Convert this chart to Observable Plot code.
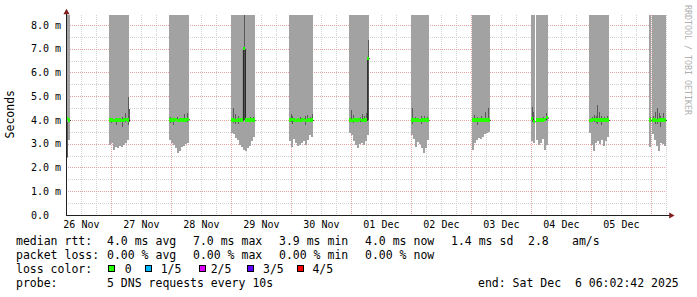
<!DOCTYPE html>
<html><head><meta charset="utf-8">
<script src="https://cdn.jsdelivr.net/npm/d3@7"></script>
<script src="https://cdn.jsdelivr.net/npm/@observablehq/plot@0.6"></script>
<style>
html,body{margin:0;padding:0;background:#fff;}
#chart{position:relative;width:697px;height:297px;overflow:hidden;}
</style></head><body><div id="chart"></div>
<script>
// ---- time range ----
const startTime = "2025-11-26T06:02:42Z";
const endTime   = "2025-12-06T06:02:42Z";
const binMinutes = 48;

// ---- smoke blocks (one value per 48-minute bin) ----
const blockStart = [
  "2025-11-26T06:02:42Z", "2025-11-26T23:26:00Z", "2025-11-27T23:19:00Z",
  "2025-11-29T00:00:00Z", "2025-11-29T23:19:00Z", "2025-11-30T23:19:00Z",
  "2025-12-02T00:00:00Z", "2025-12-03T00:24:00Z", "2025-12-04T00:00:00Z",
  "2025-12-04T02:07:00Z", "2025-12-04T23:19:00Z", "2025-12-05T23:19:00Z",
  "2025-12-06T00:31:00Z"
];
// lowest of the 5 pings (bottom of the smoke), in ms
const blockLow = [
  [2.4, 3.15],
  [2.95, 3.05, 2.75, 2.85, 2.8, 2.9, 2.85, 2.95, 3.05, 3.15],
  [3.15, 3.05, 2.95, 2.8, 2.6, 2.7, 2.85, 2.9, 3.0, 3.05],
  [3.45, 3.4, 3.25, 3.15, 2.95, 2.85, 2.75, 2.7, 2.8, 2.9, 3.1, 3.3],
  [3.1, 2.85, 3.2, 3.05, 2.9, 2.95, 3.05, 3.1, 2.95, 3.15, 3.35, 3.3],
  [3.45, 3.35, 3.1, 2.95, 2.8, 3.0, 3.05, 2.95, 3.1, 3.35],
  [3.37, 3.2, 2.88, 3.07, 3.0, 2.8, 2.6, 2.8, 3.15],
  [2.75, 3.05, 3.15, 3.25, 3.2, 3.3, 3.4, 3.45, 3.5],
  [3.1, 3.05],
  [3.15, 2.95, 3.05, 3.2, 2.75, 2.95],
  [3.45, 2.95, 2.7, 3.05, 3.1, 3.0, 3.15, 2.9, 3.1, 3.3],
  [2.85],
  [3.4, 3.15, 2.9, 2.7, 3.05, 3.0, 2.9]
];
// highest ping lies above the chart top (clipped)
const smokeHigh = 9.0;
// median rtt per bin
const blockMedian = [
  [4.05, 4.0],
  [4.0, 4.0, 3.97, 4.0, 4.0, 4.0, 3.97, 4.0, 4.03, 4.0],
  [4.0, 4.0, 4.0, 4.03, 3.97, 4.0, 4.0, 4.0, 4.0, 4.03],
  [4.0, 4.0, 3.97, 4.0, 4.0, 4.0, 7.0, 4.0, 4.0, 4.0, 4.0, 4.0],
  [4.0, 4.03, 4.0, 3.97, 4.0, 3.97, 4.0, 4.03, 3.97, 4.0, 4.0, 4.0],
  [4.0, 3.97, 4.0, 4.0, 4.0, 4.03, 3.97, 4.0, 4.0, 6.6],
  [4.0, 4.0, 4.0, 4.0, 3.97, 4.0, 4.0, 4.0, 4.0],
  [4.0, 4.0, 4.0, 4.0, 4.0, 4.0, 4.0, 4.0, 4.0],
  [4.05, 3.95],
  [4.0, 4.0, 4.0, 4.0, 4.03, 4.1],
  [3.97, 4.0, 4.03, 4.0, 4.0, 4.0, 4.0, 4.0, 4.0, 4.0],
  [4.0],
  [4.0, 4.0, 3.97, 4.0, 4.0, 4.0, 4.0]
];

// ---- darker smoke (inner pings) ----
const darkTime = [
  "2025-11-26T06:26Z",
  "2025-11-27T00:00Z","2025-11-27T02:07Z","2025-11-27T04:24Z","2025-11-27T05:43Z","2025-11-27T06:43Z","2025-11-27T07:26Z",
  "2025-11-27T23:43Z","2025-11-28T01:02Z","2025-11-28T02:38Z","2025-11-28T05:26Z","2025-11-28T06:24Z",
  "2025-11-29T00:48Z","2025-11-29T01:50Z","2025-11-29T02:48Z","2025-11-29T05:12Z","2025-11-29T07:43Z","2025-11-29T08:48Z",
  "2025-11-30T00:07Z","2025-11-30T00:38Z","2025-11-30T03:43Z","2025-11-30T04:24Z","2025-11-30T05:43Z","2025-11-30T06:38Z","2025-11-30T07:43Z","2025-11-30T08:24Z",
  "2025-12-01T00:07Z","2025-12-01T00:48Z","2025-12-01T03:43Z","2025-12-01T04:24Z","2025-12-01T05:19Z","2025-12-01T06:07Z","2025-12-01T06:55Z",
  "2025-12-02T00:38Z","2025-12-02T01:43Z","2025-12-02T04:00Z","2025-12-02T05:19Z","2025-12-02T06:24Z",
  "2025-12-03T01:19Z","2025-12-03T02:24Z","2025-12-03T04:00Z","2025-12-03T05:43Z","2025-12-03T07:02Z",
  "2025-12-04T00:24Z","2025-12-04T00:48Z","2025-12-04T05:02Z","2025-12-04T06:07Z",
  "2025-12-05T00:24Z","2025-12-05T01:19Z","2025-12-05T02:00Z","2025-12-05T02:38Z","2025-12-05T03:19Z","2025-12-05T04:00Z","2025-12-05T05:19Z","2025-12-05T06:24Z",
  "2025-12-05T23:43Z","2025-12-06T01:02Z","2025-12-06T01:43Z","2025-12-06T02:24Z","2025-12-06T03:19Z","2025-12-06T03:43Z","2025-12-06T05:02Z"
];
const darkLow = [
  2.45,
  3.86,3.8,3.72,3.93,3.8,3.9,
  3.86,3.8,3.95,3.93,3.9,
  3.86,3.82,3.82,4.0,3.93,3.95,
  3.93,3.82,3.9,3.9,3.8,3.9,3.9,3.95,
  3.9,3.88,3.9,3.95,3.93,4.0,4.0,
  3.82,3.93,3.82,3.93,3.93,
  3.93,3.8,3.95,3.95,3.98,
  3.9,3.88,3.95,4.0,
  3.93,3.93,3.88,3.82,3.9,3.8,3.93,3.93,
  3.93,3.9,3.85,3.82,3.93,3.72,3.9
];
const darkHigh = [
  3.9,
  4.07,4.1,4.14,4.28,4.95,4.45,
  4.14,4.07,4.14,4.25,4.31,
  4.5,4.26,4.18,9.0,4.14,4.12,
  4.24,4.17,4.12,4.1,4.17,4.2,4.12,4.24,
  4.42,4.2,4.12,4.24,4.15,4.28,7.35,
  4.5,4.12,4.17,4.17,4.12,
  4.2,4.14,4.17,4.35,4.52,
  4.56,4.35,4.12,4.28,
  4.12,4.2,4.17,4.63,4.35,4.17,4.12,4.17,
  4.12,4.17,4.35,4.5,4.28,4.17,4.28
];

// ---- axes ----
const yMax = 8.42;
const yTicks = [0, 1, 2, 3, 4, 5, 6, 7, 8];
const yLabels = ["0.0", "1.0 m", "2.0 m", "3.0 m", "4.0 m", "5.0 m", "6.0 m", "7.0 m", "8.0 m"];
const yMinor = [0.5, 1.5, 2.5, 3.5, 4.5, 5.5, 6.5, 7.5];
const dayTicks = [
  "2025-11-26T12:00:00Z","2025-11-27T12:00:00Z","2025-11-28T12:00:00Z","2025-11-29T12:00:00Z","2025-11-30T12:00:00Z",
  "2025-12-01T12:00:00Z","2025-12-02T12:00:00Z","2025-12-03T12:00:00Z","2025-12-04T12:00:00Z","2025-12-05T12:00:00Z"
];
const dayLabels = ["26 Nov","27 Nov","28 Nov","29 Nov","30 Nov","01 Dec","02 Dec","03 Dec","04 Dec","05 Dec"];
const yAxisTop = 8.62;          // axis line runs a little above the plot
const xAxisOverrunMin = 96;     // axis line runs a little past the end

// ---- legend ----
const rttTitle = "median rtt:";
const rttStats = ["4.0 ms avg", "7.0 ms max", "3.9 ms min", "4.0 ms now", "1.4 ms sd", "2.8", "am/s"];
const lossTitle = "packet loss:";
const lossStats = ["0.00 % avg", "0.00 % max", "0.00 % min", "0.00 % now"];
const colorTitle = "loss color:";
const lossLabels = ["0", "1/5", "2/5", "3/5", "4/5"];
const lossColors = ["#26ff00", "#00b8ff", "#dd00ff", "#5e00ff", "#ff0000"];
const probeTitle = "probe:";
const probeText = "5 DNS requests every 10s";
const endText = "end: Sat Dec  6 06:02:42 2025";
const unitLabel = "Seconds";
const watermark = "RRDTOOL / TOBI OETIKER";

// ---- build tables ----
const step = binMinutes * 60000;
const x0 = new Date(startTime), xEnd = new Date(endTime);
const smoke = [], band = [], medianPts = [];
blockStart.forEach((s, b) => {
  const t0 = Date.parse(s);
  const lows = blockLow[b], meds = blockMedian[b];
  lows.forEach((low, i) => {
    const a = new Date(t0 + i * step), c = new Date(t0 + (i + 1) * step);
    smoke.push({a, c, low, high: smokeHigh});
    band.push({a, c, m: meds[i]});
    medianPts.push({t: a, m: meds[i], block: b});
  });
  medianPts.push({t: new Date(t0 + lows.length * step), m: meds[meds.length - 1], block: b});
});
const dark = darkTime.map((t, i) => ({t: new Date(t), low: darkLow[i], high: darkHigh[i]}));
const sixHours = d3.utcHour.every(6).range(x0, xEnd);
const majorTimes = sixHours.filter(d => d.getUTCHours() === 0);
const minorTimes = sixHours.filter(d => d.getUTCHours() !== 0);
const labelByTime = new Map(dayTicks.map((d, i) => [Date.parse(d), dayLabels[i]]));
const xAxisEnd = new Date(+xEnd + xAxisOverrunMin * 60000);
const arrowRight = new Date(+xEnd + 108 * 60000);

const MONO = "'DejaVu Sans Mono', monospace";
const bandHalf = 0.065;

const plot = Plot.plot({
  width: 697, height: 297,
  marginLeft: 66, marginRight: 31, marginTop: 15, marginBottom: 82,
  style: {fontFamily: MONO, fontSize: "10px", color: "#000", background: "#fff", overflow: "visible"},
  x: {type: "utc", domain: [x0, xEnd]},
  y: {domain: [0, yMax]},
  marks: [
    Plot.ruleY(yMinor, {stroke: "#d2d2d2", strokeDasharray: "1,1", shapeRendering: "crispEdges"}),
    Plot.ruleX(minorTimes, {stroke: "#d2d2d2", strokeDasharray: "1,1", shapeRendering: "crispEdges"}),
    Plot.ruleY(yTicks.filter(v => v > 0), {stroke: "#e8a4a4", strokeDasharray: "1,1", shapeRendering: "crispEdges"}),
    Plot.ruleX(majorTimes, {stroke: "#e8a4a4", strokeDasharray: "1,1", shapeRendering: "crispEdges"}),
    Plot.rectY(smoke, {x1: "a", x2: "c", y1: "low", y2: "high", fill: "#a2a2a2", clip: true, shapeRendering: "crispEdges"}),
    Plot.ruleX(dark, {x: "t", y1: "low", y2: "high", stroke: "#5a5a5a", strokeWidth: 1, clip: true, shapeRendering: "crispEdges"}),
    Plot.line(medianPts, {x: "t", y: "m", z: "block", curve: "step-after", stroke: "#1a1a1a", strokeWidth: 1}),
    Plot.rectY(band, {x1: "a", x2: "c", y1: d => d.m - bandHalf, y2: d => d.m + bandHalf, fill: lossColors[0], shapeRendering: "crispEdges"}),
    Plot.ruleY([{y: 0, a: x0, c: xAxisEnd}], {y: "y", x1: "a", x2: "c", stroke: "#202020", shapeRendering: "crispEdges"}),
    Plot.ruleX([{x: x0, b: yAxisTop}], {x: "x", y1: 0, y2: "b", stroke: "#202020", shapeRendering: "crispEdges"}),
    Plot.dot([{x: x0, y: 8.55}], {x: "x", y: "y", symbol: "triangle", r: 2.3, fill: "#7f1f1f"}),
    Plot.dot([{x: arrowRight, y: 0}], {x: "x", y: "y", symbol: "triangle", r: 2.3, rotate: 90, fill: "#7f1f1f"}),
    Plot.axisX({ticks: dayTicks.map(d => new Date(d)), tickFormat: d => labelByTime.get(+d), tickSize: 0, tickPadding: 5, label: null}),
    Plot.axisY({ticks: yTicks, tickFormat: d => yLabels[yTicks.indexOf(d)], tickSize: 0, tickPadding: 35.5, textAnchor: "start", label: null})
  ]
});
document.getElementById("chart").append(plot);

// ---- legend / labels drawn as text in the same svg ----
const svg = d3.select(plot);
const g = svg.append("g").attr("font-family", MONO).attr("font-size", 11.5).attr("fill", "#000")
  .attr("text-anchor", "start").style("white-space", "pre");
function put(x, y, s) { g.append("text").attr("x", x).attr("y", y).attr("text-anchor", "start").text(s); }
const rowY = [244.5, 258.5, 272.5, 286.5];
const statX = [107, 193, 279, 365, 451, 528, 572];
put(16, rowY[0], rttTitle);
rttStats.forEach((s, i) => put(statX[i], rowY[0], s));
put(16, rowY[1], lossTitle);
lossStats.forEach((s, i) => put(statX[i], rowY[1], s));
put(16, rowY[2], colorTitle);
const boxX = [108.5, 145.5, 199.5, 247.5, 297.5];
const boxLabelX = [124.7, 160.7, 210.7, 263, 312.4];
lossLabels.forEach((s, i) => {
  g.append("rect").attr("x", boxX[i]).attr("y", 265.5).attr("width", 6).attr("height", 6)
    .attr("fill", lossColors[i]).attr("stroke", "#000").attr("stroke-width", 1);
  put(boxLabelX[i], rowY[2], s);
});
put(16, rowY[3], probeTitle);
put(107, rowY[3], probeText);
put(478, rowY[3], endText);
g.append("text").attr("transform", "translate(14.4,114.2) rotate(-90)").attr("text-anchor", "middle").text(unitLabel);
g.append("text").attr("transform", "translate(685,5) rotate(90)").attr("text-anchor", "start")
  .attr("font-size", 8.3).attr("fill", "#b0b0b0").text(watermark);
</script>
</body></html>
